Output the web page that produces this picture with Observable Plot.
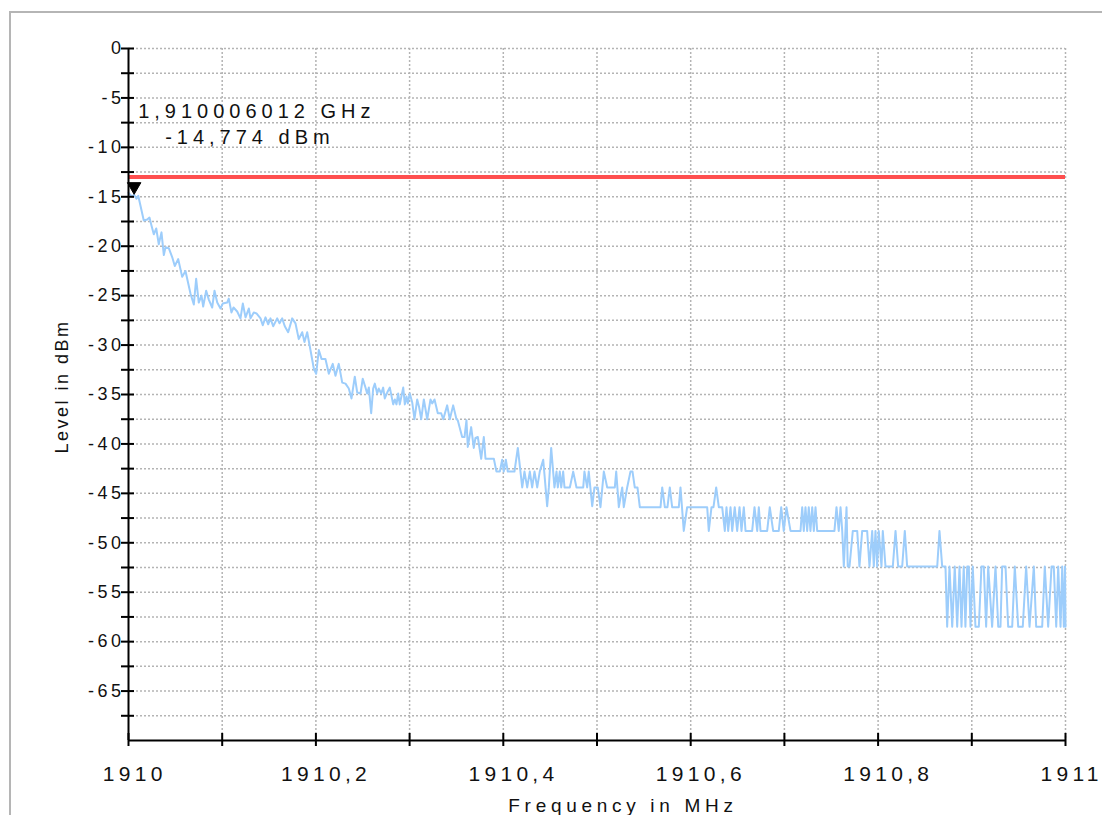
<!DOCTYPE html>
<html>
<head>
<meta charset="utf-8">
<script src="https://cdn.jsdelivr.net/npm/d3@7"></script>
<script src="https://cdn.jsdelivr.net/npm/@observablehq/plot@0.6"></script>
<style>
  html, body { margin: 0; padding: 0; background: #fff; overflow: hidden; }
  #wrap { position: relative; width: 1102px; height: 815px; }
  #frame { position: absolute; left: 9px; top: 11px; right: -4px; bottom: -4px; border-left: 2px solid #b5b5b5; border-top: 2px solid #b5b5b5; pointer-events: none; }
  #chart { position: absolute; left: 0; top: 0; }
</style>
</head>
<body>
<div id="wrap"><div id="chart"></div><div id="frame"></div></div>
<script>
// Trace vertices: frequency in MHz, level in dBm
const freqMHz = [
1910.0000,1910.0039,1910.0060,1910.0085,1910.0104,1910.0128,1910.0163,1910.0200,1910.0224,1910.0245,
1910.0270,1910.0296,1910.0323,1910.0352,1910.0377,1910.0395,1910.0430,1910.0466,1910.0494,1910.0530,
1910.0573,1910.0608,1910.0662,1910.0697,1910.0722,1910.0750,1910.0779,1910.0797,1910.0829,1910.0857,
1910.0893,1910.0918,1910.0947,1910.0982,1910.1006,1910.1053,1910.1070,1910.1099,1910.1121,1910.1160,
1910.1195,1910.1220,1910.1249,1910.1284,1910.1302,1910.1337,1910.1366,1910.1409,1910.1433,1910.1462,
1910.1491,1910.1515,1910.1544,1910.1587,1910.1612,1910.1640,1910.1668,1910.1704,1910.1747,1910.1782,
1910.1817,1910.1854,1910.1878,1910.1907,1910.1942,1910.1978,1910.2003,1910.2031,1910.2060,1910.2102,
1910.2138,1910.2180,1910.2209,1910.2244,1910.2281,1910.2316,1910.2351,1910.2380,1910.2415,1910.2441,
1910.2476,1910.2500,1910.2529,1910.2547,1910.2565,1910.2590,1910.2611,1910.2629,1910.2654,1910.2671,
1910.2697,1910.2718,1910.2735,1910.2761,1910.2789,1910.2825,1910.2842,1910.2860,1910.2878,1910.2895,
1910.2932,1910.2949,1910.2967,1910.2981,1910.3002,1910.3028,1910.3052,1910.3081,1910.3102,1910.3124,
1910.3152,1910.3188,1910.3223,1910.3241,1910.3266,1910.3301,1910.3337,1910.3359,1910.3401,1910.3429,
1910.3465,1910.3500,1910.3514,1910.3561,1910.3586,1910.3607,1910.3621,1910.3657,1910.3685,1910.3703,
1910.3728,1910.3764,1910.3792,1910.3810,1910.3899,1910.3927,1910.3963,1910.3988,1910.4005,1910.4027,
1910.4048,1910.4119,1910.4155,1910.4202,1910.4226,1910.4255,1910.4283,1910.4308,1910.4333,1910.4362,
1910.4389,1910.4426,1910.4468,1910.4486,1910.4511,1910.4546,1910.4568,1910.4582,1910.4603,1910.4618,
1910.4639,1910.4653,1910.4710,1910.4746,1910.4781,1910.4853,1910.4866,1910.4895,1910.4912,1910.4949,
1910.4973,1910.5008,1910.5037,1910.5073,1910.5109,1910.5190,1910.5205,1910.5233,1910.5269,1910.5286,
1910.5322,1910.5357,1910.5379,1910.5403,1910.5432,1910.5457,1910.5678,1910.5696,1910.5724,1910.5752,
1910.5777,1910.5802,1910.5873,1910.5891,1910.5926,1910.5962,1910.6176,1910.6193,1910.6222,1910.6243,
1910.6272,1910.6300,1910.6336,1910.6364,1910.6382,1910.6400,1910.6425,1910.6443,1910.6470,1910.6496,
1910.6521,1910.6542,1910.6567,1910.6585,1910.6656,1910.6681,1910.6710,1910.6727,1910.6745,1910.6816,
1910.6844,1910.6880,1910.6940,1910.6966,1910.6993,1910.7022,1910.7065,1910.7172,1910.7190,1910.7207,
1910.7225,1910.7243,1910.7260,1910.7278,1910.7297,1910.7314,1910.7332,1910.7350,1910.7534,1910.7556,
1910.7580,1910.7599,1910.7617,1910.7634,1910.7663,1910.7676,1910.7695,1910.7730,1910.7777,1910.7801,
1910.7830,1910.7883,1910.7908,1910.7937,1910.7954,1910.7972,1910.7990,1910.8007,1910.8036,1910.8050,
1910.8079,1910.8157,1910.8186,1910.8214,1910.8257,1910.8285,1910.8310,1910.8631,1910.8655,1910.8684,
1910.8719,1910.8737,1910.8762,1910.8791,1910.8818,1910.8844,1910.8869,1910.8890,1910.8914,1910.8932,
1910.8951,1910.8968,1910.8986,1910.9010,1910.9039,1910.9075,1910.9103,1910.9128,1910.9153,1910.9175,
1910.9217,1910.9253,1910.9282,1910.9306,1910.9324,1910.9360,1910.9388,1910.9431,1910.9459,1910.9495,
1910.9544,1910.9580,1910.9616,1910.9662,1910.9687,1910.9751,1910.9779,1910.9815,1910.9851,1910.9875,
1910.9901,1910.9922,1910.9947,1910.9965,1910.9982,1910.9995,1911.0000
];
const levelDBm = [
-14.6,-15.0,-14.8,-15.2,-14.9,-15.9,-17.4,-17.3,-17.1,-17.9,
-18.8,-18.2,-19.8,-18.6,-20.9,-20.1,-20.2,-21.1,-22.0,-21.3,
-23.1,-22.5,-24.8,-25.9,-23.3,-25.7,-25.0,-26.1,-24.5,-25.4,
-26.2,-24.5,-25.7,-26.3,-25.8,-25.7,-25.3,-26.7,-26.2,-26.6,
-27.3,-25.8,-27.2,-26.3,-27.3,-26.7,-26.8,-27.3,-28.0,-27.2,
-27.9,-27.3,-28.1,-27.3,-27.8,-27.3,-28.1,-28.7,-27.3,-27.8,
-29.4,-28.7,-29.7,-28.7,-30.5,-32.4,-32.9,-30.5,-31.4,-31.4,
-32.9,-31.9,-33.1,-31.9,-33.8,-33.9,-34.4,-35.4,-33.2,-34.8,
-34.9,-33.4,-34.3,-34.9,-34.3,-36.9,-34.4,-33.9,-34.9,-34.4,
-34.9,-34.3,-35.4,-34.8,-34.3,-36.0,-35.5,-36.0,-34.9,-36.0,
-34.3,-36.0,-35.2,-35.9,-34.9,-35.8,-37.5,-35.5,-36.3,-37.5,
-35.5,-37.5,-35.5,-35.9,-35.5,-36.9,-36.9,-37.5,-36.1,-37.5,
-36.1,-37.5,-37.6,-39.3,-39.3,-37.6,-40.3,-38.3,-40.4,-39.4,
-39.3,-41.5,-39.3,-41.5,-41.5,-42.8,-42.8,-41.6,-42.8,-41.6,
-42.8,-42.8,-40.4,-44.4,-42.8,-44.4,-42.8,-44.4,-42.8,-44.4,
-42.8,-41.6,-46.3,-44.4,-40.4,-44.4,-42.8,-44.4,-42.8,-44.4,
-42.8,-44.4,-44.4,-42.8,-44.4,-44.4,-42.8,-44.4,-42.8,-46.3,
-44.4,-44.4,-46.4,-42.8,-44.4,-44.4,-42.8,-46.4,-44.4,-46.4,
-44.4,-42.8,-42.8,-44.4,-44.4,-46.4,-46.4,-44.4,-46.4,-46.4,
-44.4,-46.4,-46.4,-44.4,-48.8,-46.4,-46.4,-48.8,-46.4,-46.4,
-44.4,-46.4,-46.4,-48.8,-46.4,-48.8,-46.4,-48.8,-46.4,-48.8,
-46.4,-48.8,-46.4,-48.8,-48.8,-46.4,-48.8,-46.4,-48.8,-48.8,
-46.4,-48.8,-48.8,-46.4,-48.8,-46.4,-48.8,-48.8,-46.4,-48.8,
-46.4,-48.8,-46.4,-48.8,-46.4,-48.8,-46.4,-48.8,-48.8,-46.4,
-48.8,-46.4,-48.8,-52.4,-46.4,-52.4,-52.4,-48.8,-48.8,-52.4,
-48.8,-48.8,-52.4,-48.8,-52.4,-48.8,-52.4,-48.8,-52.4,-48.8,
-52.4,-52.4,-48.8,-52.4,-52.4,-48.8,-52.4,-52.4,-48.8,-52.4,
-52.4,-58.5,-52.4,-58.5,-52.4,-58.5,-52.4,-58.5,-52.4,-58.5,
-52.4,-52.4,-58.5,-52.4,-58.5,-58.5,-52.4,-52.4,-58.5,-52.4,
-58.5,-52.4,-58.5,-58.5,-52.4,-52.4,-58.5,-58.5,-52.4,-58.5,
-58.5,-52.4,-58.5,-52.4,-58.5,-58.5,-52.4,-58.5,-52.4,-52.4,
-58.5,-52.4,-58.5,-52.4,-58.5,-52.4,-58.5
];

// Limit line and marker readout
const limitDBm = [-13];
const markerFreqMHz = [1910.006012];
const markerLevelDBm = [-14.774];
const markerLine1 = ["1,910006012 GHz"];
const markerLine2 = ["-14,774 dBm"];

// Axes
const xDomain = [1910, 1911];
const yDomain = [-70, 0];
const xTickLabels = [1910, 1910.2, 1910.4, 1910.6, 1910.8, 1911];
const xTicksAll = [1910, 1910.1, 1910.2, 1910.3, 1910.4, 1910.5, 1910.6, 1910.7, 1910.8, 1910.9, 1911];
const xGrid = [1910.1, 1910.2, 1910.3, 1910.4, 1910.5, 1910.6, 1910.7, 1910.8, 1910.9, 1911];
const yTickLabels = [0, -5, -10, -15, -20, -25, -30, -35, -40, -45, -50, -55, -60, -65];
const yTicksAll = [0, -2.5, -5, -7.5, -10, -12.5, -15, -17.5, -20, -22.5, -25, -27.5, -30, -32.5, -35, -37.5, -40, -42.5, -45, -47.5, -50, -52.5, -55, -57.5, -60, -62.5, -65, -67.5];
const xTitle = "Frequency in MHz";
const yTitle = "Level in dBm";

const trace = freqMHz.map((f, i) => ({f, l: levelDBm[i]}));
const marker = markerFreqMHz.map((f, i) => ({f, l: markerLevelDBm[i], t1: markerLine1[i], t2: markerLine2[i]}));
const comma = d => String(d).replace(".", ",");

const chart = Plot.plot({
  width: 1102,
  height: 815,
  marginLeft: 128,
  marginRight: 37,
  marginTop: 48,
  marginBottom: 75,
  x: {domain: xDomain},
  y: {domain: yDomain},
  style: {fontFamily: "'Liberation Sans', Arial, sans-serif", background: "transparent", color: "black"},
  marks: [
    Plot.gridY(yTicksAll, {stroke: "#b4b4b4", strokeOpacity: 1, strokeWidth: 1.5, strokeDasharray: "2,2"}),
    Plot.gridX(xGrid, {stroke: "#b4b4b4", strokeOpacity: 1, strokeWidth: 1.5, strokeDasharray: "2,2"}),
    Plot.ruleY(limitDBm, {stroke: "#ff4f4f", strokeWidth: 4}),
    Plot.line(trace, {x: "f", y: "l", stroke: "#9dcdfb", strokeWidth: 2}),
    Plot.ruleX([xDomain[0]], {stroke: "black", strokeWidth: 2}),
    Plot.ruleY([yDomain[0]], {stroke: "black", strokeWidth: 2}),
    Plot.axisY({ticks: yTicksAll, tickSize: 13, dx: 6, tickFormat: () => "", stroke: "black", strokeWidth: 2, label: null}),
    Plot.axisY({ticks: yTickLabels, tickSize: 0, tickPadding: 4, tickFormat: d => String(d), fontSize: 18, fill: "#111", label: null}),
    Plot.axisX({ticks: xTicksAll, tickSize: 13, dy: -7, tickFormat: () => "", stroke: "black", strokeWidth: 2, label: null}),
    Plot.axisX({ticks: xTickLabels, tickSize: 0, tickPadding: 26, tickFormat: comma, fontSize: 21, fill: "#111", label: null}),
    Plot.dot(marker, {x: "f", y: "l", symbol: "triangle", rotate: 180, r: 5, fill: "black", stroke: "black", strokeWidth: 1, dy: -8}),
    Plot.text(marker, {x: "f", y: "l", text: "t1", textAnchor: "start", lineAnchor: "middle", dx: 4, dy: -83, fontSize: 20, fill: "#111"}),
    Plot.text(marker, {x: "f", y: "l", text: "t2", textAnchor: "start", lineAnchor: "middle", dx: 31, dy: -57, fontSize: 20, fill: "#111"}),
    Plot.text([yTitle], {frameAnchor: "left", textAnchor: "middle", lineAnchor: "middle", rotate: -90, dx: -66, dy: -8, fontSize: 18, fill: "#111"}),
    Plot.text([xTitle], {frameAnchor: "bottom", textAnchor: "middle", lineAnchor: "middle", dx: 26, dy: 65, fontSize: 19, fill: "#111"})
  ]
});
document.getElementById("chart").appendChild(chart);

// Text styling (sizes and the wide letter spacing of the instrument's font)
const svg = d3.select(chart);
svg.selectAll('g[aria-label="y-axis tick label"] text').style("font-size", "18px", "important").style("letter-spacing", "3.5px");
svg.selectAll('g[aria-label="x-axis tick label"] text')
  .style("font-size", "21px", "important")
  .style("letter-spacing", "4.3px")
  .each(function () {
    // the instrument centres the unspaced label, so longer labels drift right
    const n = this.textContent.length;
    this.setAttribute("dx", String(2 * (n - 2) + 2.15));
  });
svg.selectAll("text").each(function () {
  const t = this.textContent;
  const s = d3.select(this);
  if (t === markerLine1[0] || t === markerLine2[0]) s.style("font-size", "20px", "important").style("letter-spacing", "5px");
  else if (t === yTitle) s.style("font-size", "18px", "important").style("letter-spacing", "2.5px");
  else if (t === xTitle) s.style("font-size", "19px", "important").style("letter-spacing", "4.7px");
});
</script>
</body>
</html>
